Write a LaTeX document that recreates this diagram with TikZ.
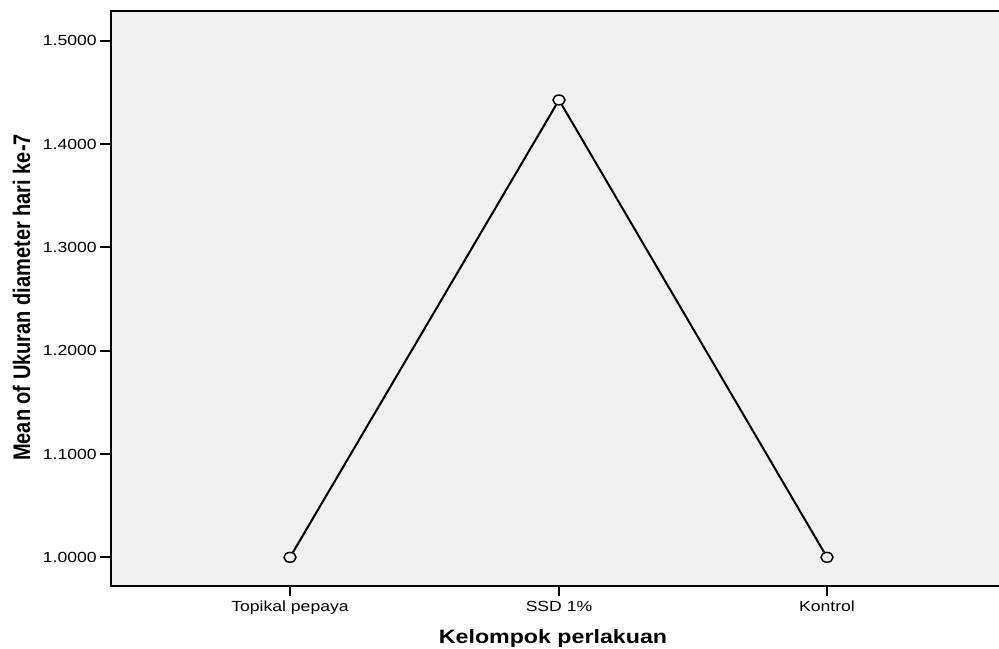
\documentclass[tikz,border=0pt]{standalone}
\usepackage{fontspec}
\setmainfont{Liberation Sans}
\usetikzlibrary{shapes.geometric}

\definecolor{plotbg}{RGB}{240,240,240}
\newcommand{\wider}[1]{\scalebox{1.2}[1]{#1}}
\newcommand{\taller}[1]{\scalebox{1}[1.2]{#1}}

\tikzset{every picture/.style={line width=1.5pt},
  ticklab/.style={font=\fontsize{11}{13}\selectfont, inner sep=1pt},
  marker/.style={draw, ellipse, line width=1.1pt, minimum width=9pt, minimum height=7.4pt, inner sep=0pt}}

\begin{document}
\begin{tikzpicture}[x=0.75pt,y=0.75pt,yscale=-1,xscale=1]
	\useasboundingbox (0,0) rectangle (999,649);

	%Shape: Plot area
	\fill [plotbg] (111,11) rectangle (1005,586);
	\draw [line cap=rect] (1005,11) -- (111,11) -- (111,586) -- (1005,586);

	%Y ticks
	\foreach \v/\lab in {0/1.0000,1/1.1000,2/1.2000,3/1.3000,4/1.4000,5/1.5000}{
		\draw (100,557.3-\v*103.3) -- (111,557.3-\v*103.3);
		\node [ticklab, anchor=east] (ylab\v) at (99,557.3-\v*103.3) {\wider{\lab}};
	}

	%X ticks
	\foreach \x/\lab/\nm in {290/Topikal pepaya/topikal,559/SSD 1\%/ssd,827/Kontrol/kontrol}{
		\draw (\x,586) -- (\x,596);
		\node [ticklab, anchor=base] (xlab-\nm) at (\x,611) {\wider{\lab}};
	}

	%Data points
	\node [marker] (topikal) at (290,557.3) {};
	\node [marker] (ssd) at (559,100) {};
	\node [marker] (kontrol) at (827,557.3) {};
	\draw [line join=round] (topikal) -- (ssd) -- (kontrol);

	% Text Node
	\node [anchor=base, font=\bfseries\fontsize{14.5}{17}\selectfont] (xtitle) at (553,643) {\wider{Kelompok perlakuan}};
	% Text Node
	\node [anchor=base, rotate=90, font=\bfseries\fontsize{15}{18}\selectfont] (ytitle) at (30,297.5) {\taller{Mean of Ukuran diameter hari ke-7}};

\end{tikzpicture}
\end{document}
